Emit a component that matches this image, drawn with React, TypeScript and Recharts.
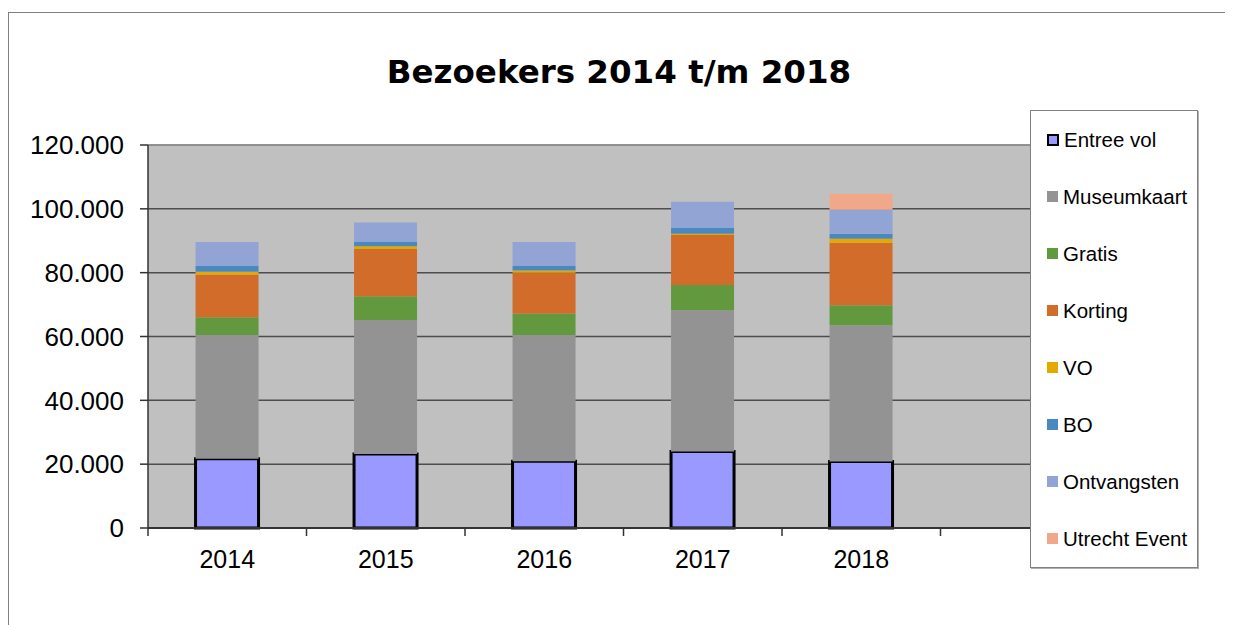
import React from "react";
import { Bar, BarChart, CartesianGrid, ReferenceLine, XAxis, YAxis } from "recharts";

const years = ["2014", "2015", "2016", "2017", "2018", ""];
const entreeVol = [21700, 23200, 20900, 24000, 20800, 0];
const museumkaart = [38800, 42000, 39600, 44200, 42700, 0];
const gratis = [5500, 7400, 6600, 7900, 6300, 0];
const korting = [13400, 14800, 12900, 15700, 19600, 0];
const vo = [900, 900, 700, 400, 1200, 0];
const bo = [1800, 1300, 1400, 1800, 1600, 0];
const ontvangsten = [7500, 6100, 7500, 8200, 7500, 0];
const utrechtEvent = [0, 0, 0, 0, 5000, 0];
const yTicks = [0, 20000, 40000, 60000, 80000, 100000, 120000];

const SERIES = [
  { key: "Entree vol", values: entreeVol, color: "#9999ff", stroke: "#000" },
  { key: "Museumkaart", values: museumkaart, color: "#939393" },
  { key: "Gratis", values: gratis, color: "#62983e" },
  { key: "Korting", values: korting, color: "#d16c2a" },
  { key: "VO", values: vo, color: "#e2aa00" },
  { key: "BO", values: bo, color: "#4a89c0" },
  { key: "Ontvangsten", values: ontvangsten, color: "#91a4d4" },
  { key: "Utrecht Event", values: utrechtEvent, color: "#f1a78a" },
];

const data = years.map((year, i) => {
  const row: Record<string, string | number> = { year };
  SERIES.forEach((s) => (row[s.key] = s.values[i]));
  return row;
});

const W = 1225;
const H = 617;
const MARGIN = { top: 137, right: 134, bottom: 0, left: 0 };
const Y_WIDTH = 140;
const HALF_BAND = (W - Y_WIDTH - MARGIN.right) / years.length / 2;
const FONT = "'Liberation Sans', Arial, sans-serif";

const fmt = (n: number) => String(n).replace(/\B(?=(\d{3})+(?!\d))/g, ".");

function YearTick(props: any) {
  const { x, y, payload } = props;
  return (
    <g>
      <line x1={x - HALF_BAND} x2={x - HALF_BAND} y1={y - 8} y2={y} stroke="#333" strokeWidth={1.5} />
      <text x={x} y={y + 32} textAnchor="middle" fontSize={25} fontFamily={FONT} fill="#000">
        {payload.value}
      </text>
    </g>
  );
}

export default function App() {
  return (
    <div style={{ position: "relative", width: W, height: H, overflow: "hidden", background: "#fff" }}>
      <div
        style={{
          position: "absolute",
          left: 0,
          top: 4,
          width: W + 20,
          height: H + 20,
          borderTop: "1px solid #808080",
          borderLeft: "1px solid #808080",
        }}
      />
      <div
        style={{
          position: "absolute",
          left: 0,
          width: 1222,
          top: 48,
          textAlign: "center",
          fontFamily: "'DejaVu Sans', Verdana, sans-serif",
          fontWeight: "bold",
          fontSize: 32.5,
          lineHeight: "32px",
          color: "#000",
        }}
      >
        Bezoekers 2014 t/m 2018
      </div>
      <BarChart width={W} height={H} data={data} margin={MARGIN} barCategoryGap="30%">
        <CartesianGrid vertical={false} fill="#c0c0c0" stroke="#4d4d4d" strokeWidth={1.5} />
        <XAxis
          dataKey="year"
          height={97}
          tickSize={8}
          tickMargin={0}
          tickLine={false}
          axisLine={{ stroke: "#333", strokeWidth: 2 }}
          tick={<YearTick />}
          interval={0}
        />
        <YAxis
          width={Y_WIDTH}
          domain={[0, 120000]}
          ticks={yTicks}
          tickFormatter={fmt}
          tickSize={8}
          tickMargin={16}
          axisLine={{ stroke: "#333", strokeWidth: 1.5 }}
          tickLine={{ stroke: "#333", strokeWidth: 1.5 }}
          tick={{ fontSize: 26, fontFamily: FONT, fill: "#000" }}
        />
        <ReferenceLine y={120000} stroke="#9a9a9a" strokeWidth={1.5} />
        {SERIES.map((s) => (
          <Bar
            key={s.key}
            dataKey={s.key}
            stackId="a"
            fill={s.color}
            stroke={s.stroke}
            strokeWidth={s.stroke ? 3 : 0}
            isAnimationActive={false}
          />
        ))}
      </BarChart>
      <div
        style={{
          position: "absolute",
          left: 1022,
          top: 102,
          width: 166,
          height: 456,
          background: "#fff",
          border: "1px solid #808080",
          boxShadow: "1px 1px 0 #b0b0b0",
          fontFamily: FONT,
          fontSize: 20.5,
          color: "#000",
        }}
      >
        {SERIES.map((s) => (
          <div key={s.key} style={{ height: 57, display: "flex", alignItems: "center", paddingLeft: 16 }}>
            <span
              style={{
                display: "inline-block",
                width: s.stroke ? 8 : 11,
                height: s.stroke ? 8 : 11,
                background: s.color,
                border: s.stroke ? "2px solid #000" : "none",
                marginRight: 5,
              }}
            />
            <span style={{ whiteSpace: "nowrap" }}>{s.key}</span>
          </div>
        ))}
      </div>
    </div>
  );
}
